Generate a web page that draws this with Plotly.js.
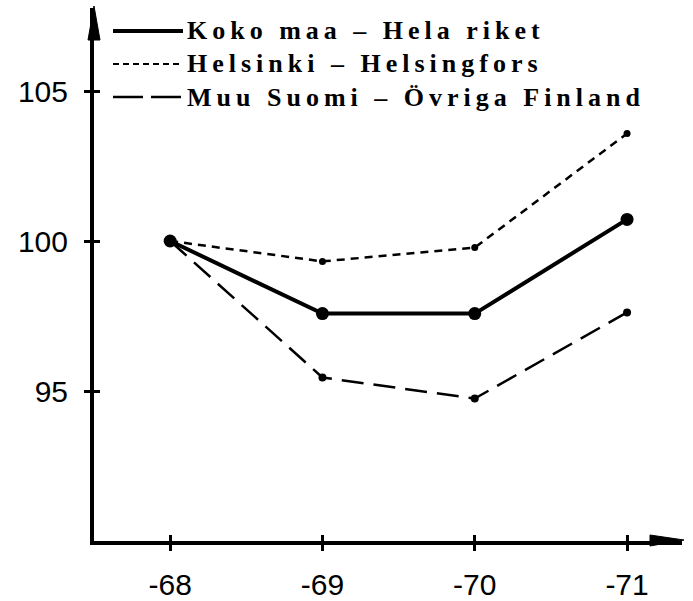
<!DOCTYPE html>
<html>
<head>
<meta charset="utf-8">
<script src="https://cdn.plot.ly/plotly-3.0.1.min.js"></script>
<style>
html,body{margin:0;padding:0;background:#fff;}
#chart{width:693px;height:601px;}
#chart .annotation-text{letter-spacing:5px;}
</style>
</head>
<body>
<div id="chart"></div>
<script>
// Data
var years = [68, 69, 70, 71];
var yearLabels = ['-68', '-69', '-70', '-71'];
var kokoMaa = [100, 97.58, 97.58, 100.72];
var helsinki = [100, 99.32, 99.78, 103.58];
var muuSuomi = [100, 95.45, 94.75, 97.62];
var yTicks = [95, 100, 105];
var yTickLabels = ['95', '100', '105'];
var seriesNames = ['Koko maa – Hela riket', 'Helsinki – Helsingfors', 'Muu Suomi – Övriga Finland'];

var W = 693, H = 601;
var m = {l: 94, r: 11, t: 8, b: 60};
var pw = W - m.l - m.r, ph = H - m.t - m.b;
var xr = [67.5, 67.5 + pw / 152.3];
var yr = [90, 90 + ph / 30];
function px(x) { return (x - m.l) / pw; }
function py(y) { return (H - m.b - y) / ph; }

var traces = [
  {x: years, y: helsinki, mode: 'lines+markers', name: seriesNames[1],
   line: {color: '#000', width: 2.5, dash: '8px,6px'}, marker: {color: '#000', size: 7}},
  {x: years, y: muuSuomi, mode: 'lines+markers', name: seriesNames[2],
   line: {color: '#000', width: 2.5, dash: '22px,10px'}, marker: {color: '#000', size: 8}},
  {x: years, y: kokoMaa, mode: 'lines+markers', name: seriesNames[0],
   line: {color: '#000', width: 4}, marker: {color: '#000', size: 13}}
];

var labelFont = {family: 'Liberation Sans, Arial, sans-serif', size: 30, color: '#000'};
var legFont = {family: 'Liberation Serif, serif', size: 26, weight: 700, color: '#000'};

var legRows = [
  {y: 31, dash: 'solid', w: 4},
  {y: 64, dash: '6px,4px', w: 2},
  {y: 97, dash: '30px,8px', w: 2.5}
];
var shapes = [
  {type: 'path', xref: 'paper', yref: 'paper',
   path: 'M ' + px(88) + ' ' + py(40) + ' L ' + px(94) + ' ' + py(6) + ' L ' + px(100) + ' ' + py(40) + ' Z',
   fillcolor: '#000', line: {color: '#000', width: 1}},
  {type: 'path', xref: 'paper', yref: 'paper',
   path: 'M ' + px(650) + ' ' + py(535) + ' L ' + px(684) + ' ' + py(540) + ' L ' + px(650) + ' ' + py(546) + ' Z',
   fillcolor: '#000', line: {color: '#000', width: 1}}
];
var annotations = [];
legRows.forEach(function (r, i) {
  shapes.push({type: 'line', xref: 'paper', yref: 'paper', x0: px(113), x1: px(183), y0: py(r.y), y1: py(r.y),
    line: {color: '#000', width: r.w, dash: r.dash}});
  annotations.push({xref: 'paper', yref: 'paper', x: px(185), y: py(r.y), xanchor: 'left', yanchor: 'middle',
    align: 'left', text: seriesNames[i], showarrow: false, font: legFont});
});

var layout = {
  width: W, height: H, margin: m, showlegend: false,
  paper_bgcolor: '#fff', plot_bgcolor: '#fff',
  xaxis: {range: xr, tickvals: years, ticktext: yearLabels, showgrid: false, zeroline: false,
    showline: true, linecolor: '#000', linewidth: 3.5, ticks: 'outside', ticklen: 6, tickwidth: 3, tickcolor: '#000',
    tickfont: labelFont, ticklabelstandoff: 8},
  yaxis: {range: yr, tickvals: yTicks, ticktext: yTickLabels, showgrid: false, zeroline: false,
    showline: true, linecolor: '#000', linewidth: 4, ticks: 'outside', ticklen: 6, tickwidth: 3, tickcolor: '#000',
    tickfont: labelFont, ticklabelstandoff: 10},
  xaxis2: {range: xr, overlaying: 'x', tickvals: years, showticklabels: false, showgrid: false, zeroline: false,
    ticks: 'inside', ticklen: 6, tickwidth: 3, tickcolor: '#000', side: 'bottom', anchor: 'y'},
  yaxis2: {range: yr, overlaying: 'y', tickvals: yTicks, showticklabels: false, showgrid: false, zeroline: false,
    ticks: 'inside', ticklen: 6, tickwidth: 3, tickcolor: '#000', side: 'left', anchor: 'x'},
  shapes: shapes, annotations: annotations
};
traces.push({x: [], y: [], xaxis: 'x2', yaxis: 'y2', showlegend: false, hoverinfo: 'skip'});

Plotly.newPlot('chart', traces, layout, {displayModeBar: false, staticPlot: true});
</script>
</body>
</html>
